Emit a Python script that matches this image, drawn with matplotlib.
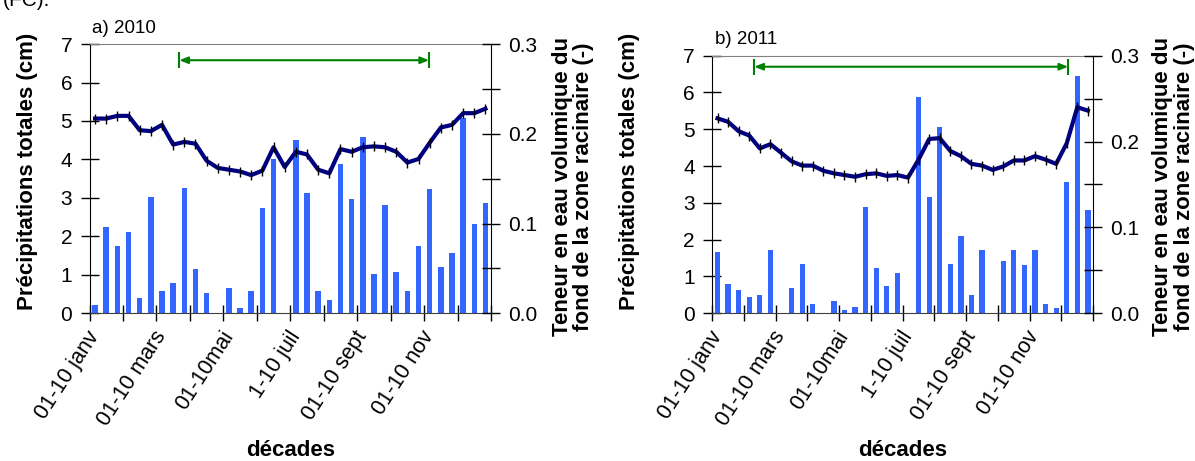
import matplotlib
matplotlib.use('Agg')
import matplotlib.pyplot as plt
import numpy as np

plt.rcParams['font.family'] = ['Liberation Sans', 'DejaVu Sans']

# precipitation per decade (cm) and soil moisture (-), 36 decades per year
pluie_2010 = [0.22, 2.24, 1.75, 2.11, 0.40, 3.02, 0.58, 0.79, 3.26, 1.15, 0.53, 0.0,
              0.66, 0.14, 0.58, 2.74, 4.01, 0.0, 4.51, 3.13, 0.58, 0.35, 3.88, 2.97,
              4.58, 1.02, 2.82, 1.07, 0.58, 1.75, 3.23, 1.20, 1.58, 5.07, 2.32, 2.87]
teneur_2010 = [0.217, 0.217, 0.220, 0.220, 0.204, 0.203, 0.210, 0.188, 0.191, 0.189,
               0.170, 0.162, 0.160, 0.158, 0.154, 0.159, 0.185, 0.163, 0.180, 0.177,
               0.160, 0.156, 0.183, 0.180, 0.185, 0.186, 0.185, 0.180, 0.168, 0.172,
               0.190, 0.207, 0.210, 0.223, 0.223, 0.228]

pluie_2011 = [1.66, 0.79, 0.63, 0.44, 0.50, 1.71, 0.0, 0.69, 1.33, 0.25, 0.0, 0.33,
              0.09, 0.17, 2.88, 1.23, 0.74, 1.09, 0.0, 5.88, 3.15, 5.07, 1.33, 2.09,
              0.50, 1.71, 0.02, 1.42, 1.71, 1.31, 1.71, 0.24, 0.14, 3.57, 6.45, 2.82]
teneur_2011 = [0.227, 0.223, 0.212, 0.207, 0.192, 0.197, 0.187, 0.177, 0.172, 0.172,
               0.166, 0.163, 0.161, 0.159, 0.162, 0.163, 0.160, 0.161, 0.158, 0.179,
               0.203, 0.204, 0.189, 0.183, 0.174, 0.172, 0.167, 0.171, 0.178, 0.178,
               0.183, 0.179, 0.174, 0.198, 0.240, 0.236]

mois_pos = [0, 6, 12, 18, 24, 30]
mois_labels = ['01-10 janv', '01-10 mars', '01-10mai', '1-10 juil', '01-10 sept', '01-10 nov']

# growing season arrows (decade index, height in cm)
fleche_2010 = (7.55, 29.95, 6.58)
fleche_2011 = (3.47, 33.14, 6.70)

fig = plt.figure(figsize=(11.95, 4.61), dpi=100)

axes_pos = [[0.0749, 0.3204, 0.336, 0.584],
            [0.596, 0.3204, 0.3188, 0.5588]]
donnees = [(pluie_2010, teneur_2010, fleche_2010, 'a) 2010'),
           (pluie_2011, teneur_2011, fleche_2011, 'b) 2011')]

fs = 15
for pos, (pluie, teneur, fleche, titre) in zip(axes_pos, donnees):
    ax = fig.add_axes(pos)
    x = np.arange(len(pluie))
    ax.bar(x, pluie, width=0.5, color='#3366ff', zorder=2)
    ax.set_xlim(-0.5, 35.5)
    ax.set_ylim(0, 7)
    ax.set_yticks(range(8))
    ax.set_xticks(np.arange(-0.5, 36, 3))
    ax.set_xticklabels([])
    ax.set_xticks(mois_pos, minor=True)
    ax.set_xticklabels(mois_labels, minor=True, rotation=57, ha='right',
                       va='center', rotation_mode='anchor', fontsize=15.5)
    ax.tick_params(axis='x', which='minor', length=0, pad=14)
    ax.tick_params(axis='x', which='major', direction='inout', length=11, width=1)
    ax.tick_params(axis='y', direction='inout', length=13, width=1, labelsize=fs, pad=6)
    ax.spines['top'].set_color('#808080')
    ax.spines['right'].set_visible(False)
    ax.spines['bottom'].set_color('#404040')

    x1, x2, yf = fleche
    ax.annotate('', xy=(x1, yf), xytext=(x2, yf),
                arrowprops=dict(arrowstyle='<|-|>,head_length=0.5,head_width=0.2',
                                color='#008000', lw=1.5, shrinkA=0, shrinkB=0))
    ax.plot([x1, x2], [yf, yf], ls='none', marker='|', ms=12, mew=1.5, color='#008000')

    ax2 = ax.twinx()
    ax2.plot(x, teneur, color='#000080', lw=3, marker='|', ms=7, mew=1,
             mec='black', zorder=3)
    ax2.set_ylim(0, 0.3)
    ax2.set_yticks(np.arange(0, 0.301, 0.05))
    ax2.set_yticklabels(['0.0', '', '0.1', '', '0.2', '', '0.3'])
    ax2.tick_params(axis='y', direction='inout', length=13, width=1, labelsize=fs, pad=6)
    ax2.spines['top'].set_visible(False)
    ax2.spines['left'].set_visible(False)
    ax2.spines['bottom'].set_visible(False)

    fig.text(pos[0] + 0.002, pos[1] + pos[3] + 0.025, titre, fontsize=13.5,
             ha='left', va='baseline')
    fig.text(pos[0] + pos[2] / 2, 0.022, 'décades', fontsize=16, fontweight='bold',
             ha='center', va='center')

lab_l = 'Précipitations totales (cm)'
lab_r = 'Teneur en eau volumique du\nfond de la zone racinaire (-)'
fig.text(0.0226, 0.628, lab_l, rotation=90, fontsize=16, fontweight='bold',
         ha='center', va='center')
fig.text(0.527, 0.628, lab_l, rotation=90, fontsize=16, fontweight='bold',
         ha='center', va='center')
fig.text(0.4795, 0.595, lab_r, rotation=90, fontsize=16, fontweight='bold',
         ha='center', va='center', linespacing=1.05)
fig.text(0.982, 0.595, lab_r, rotation=90, fontsize=16, fontweight='bold',
         ha='center', va='center', linespacing=1.05)

# partial caption line from the page above, cut off at the top edge
fig.text(0.002, 1 - 6 / 461, '(FC).', fontsize=15, ha='left', va='baseline')

fig.savefig('out.png', dpi=100)
